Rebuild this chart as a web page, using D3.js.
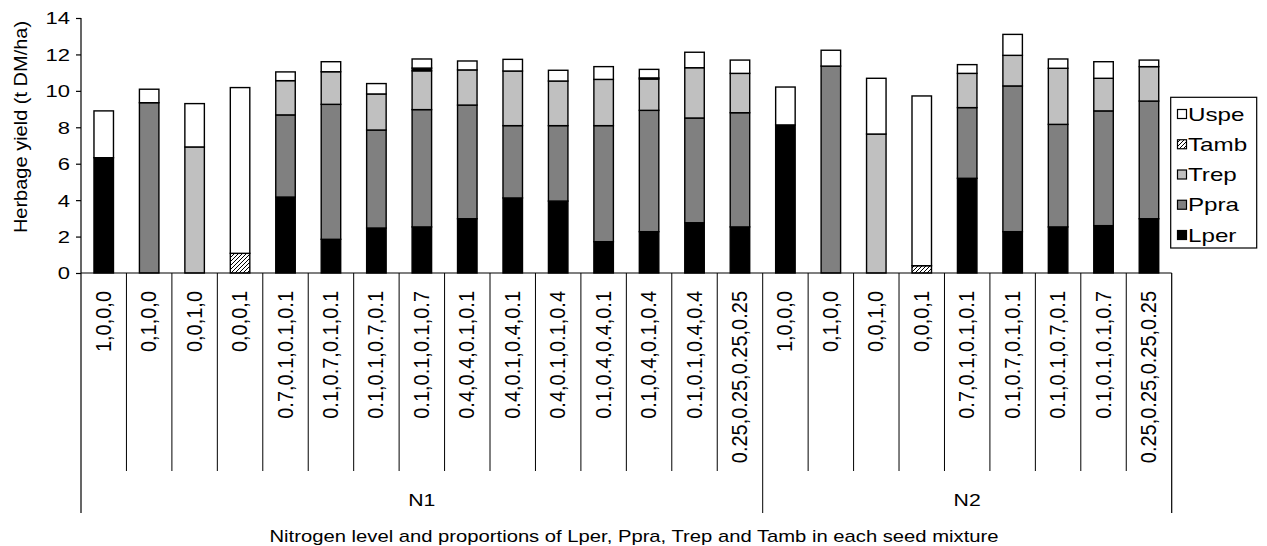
<!DOCTYPE html>
<html><head><meta charset="utf-8">
<script src="https://cdn.jsdelivr.net/npm/d3@7"></script>
<style>
body{margin:0;background:#fff;}
svg text{font-family:Arial,"Liberation Sans",sans-serif;fill:#000;}
</style></head>
<body>
<svg id="chart" width="1267" height="546"></svg>
<script>
const mixturesN1 = ["1,0,0,0","0,1,0,0","0,0,1,0","0,0,0,1","0.7,0.1,0.1,0.1","0.1,0.7,0.1,0.1","0.1,0.1,0.7,0.1","0.1,0.1,0.1,0.7","0.4,0.4,0.1,0.1","0.4,0.1,0.4,0.1","0.4,0.1,0.1,0.4","0.1,0.4,0.4,0.1","0.1,0.4,0.1,0.4","0.1,0.1,0.4,0.4","0.25,0.25,0.25,0.25"];
const mixturesN2 = ["1,0,0,0","0,1,0,0","0,0,1,0","0,0,0,1","0.7,0.1,0.1,0.1","0.1,0.7,0.1,0.1","0.1,0.1,0.7,0.1","0.1,0.1,0.1,0.7","0.25,0.25,0.25,0.25"];
const groups = ["N1","N2"];
const seriesNames = ["Lper","Ppra","Trep","Tamb","Uspe"];
const Lper = [6.33,0,0,0,4.17,1.85,2.47,2.53,2.98,4.12,3.95,1.72,2.27,2.76,2.53, 8.13,0,0,0,5.20,2.27,2.53,2.60,2.98];
const Ppra = [0,9.35,0,0,4.51,7.41,5.38,6.44,6.24,3.97,4.14,6.37,6.66,5.75,6.27, 0,11.36,0,0,3.88,8.00,5.63,6.30,6.46];
const Trep = [0,0,6.92,0,1.88,1.79,1.98,2.13,1.93,3.00,2.45,2.54,1.72,2.76,2.16, 0,0,7.63,0,1.88,1.68,3.08,1.79,1.89];
const Tamb = [0,0,0,1.08,0,0,0,0.15,0,0,0,0,0.06,0,0, 0,0,0,0.40,0,0,0,0,0];
const Uspe = [2.57,0.74,2.38,9.10,0.48,0.55,0.57,0.50,0.49,0.64,0.59,0.70,0.47,0.85,0.73, 2.08,0.87,3.06,9.32,0.48,1.15,0.51,0.91,0.36];
const yTicks = [0,2,4,6,8,10,12,14];
const yTitle = "Herbage yield (t DM/ha)";
const xTitle = "Nitrogen level and proportions of Lper, Ppra, Trep and Tamb in each seed mixture";

const svg = d3.select("#chart");
const mLeft = 81, mRight = 1171.7, mTop = 18, mBottom = 273;
const cats = mixturesN1.map((m,i)=>"N1|"+i).concat(mixturesN2.map((m,i)=>"N2|"+i));
const labels = mixturesN1.concat(mixturesN2);
const x = d3.scaleBand().domain(cats).range([mLeft,mRight]).paddingInner(0).paddingOuter(0);
const y = d3.scaleLinear().domain([0,14]).range([mBottom,mTop]);

const defs = svg.append("defs");
const pat = defs.append("pattern").attr("id","hatch").attr("patternUnits","userSpaceOnUse")
  .attr("width",4).attr("height",4);
pat.append("rect").attr("width",4).attr("height",4).attr("fill","#fff");
pat.append("path").attr("d","M-1,1 l2,-2 M0,4 l4,-4 M3,5 l2,-2").attr("stroke","#000").attr("stroke-width",1);

const fills = {Lper:"#000000",Ppra:"#808080",Trep:"#c0c0c0",Tamb:"url(#hatch)",Uspe:"#ffffff"};
const table = cats.map((c,i)=>({cat:c,Lper:Lper[i],Ppra:Ppra[i],Trep:Trep[i],Tamb:Tamb[i],Uspe:Uspe[i]}));
const stack = d3.stack().keys(seriesNames)(table);

const barW = 19.5;
const gBars = svg.append("g");
stack.forEach(layer=>{
  gBars.selectAll(null).data(layer.filter(d=>d[1]-d[0]>0)).enter().append("rect")
    .attr("x",d=>x(d.data.cat)+x.bandwidth()/2-barW/2)
    .attr("width",barW)
    .attr("y",d=>y(d[1]))
    .attr("height",d=>y(d[0])-y(d[1]))
    .attr("fill",d=>(layer.key==="Tamb" && (d[1]-d[0])<0.2) ? "#000" : fills[layer.key])
    .attr("stroke","#000").attr("stroke-width",1.4);
});

// y axis
const yAxis = d3.axisLeft(y).tickValues(yTicks).tickSize(5).tickPadding(6).tickFormat(d3.format("d"));
const gy = svg.append("g").attr("transform",`translate(${mLeft},0)`).call(yAxis);
gy.select(".domain").attr("stroke","#000").attr("stroke-width",1.2).attr("d",`M0,${mTop}V${mBottom}`);
gy.selectAll(".tick line").attr("stroke","#000").attr("stroke-width",1.2);
gy.selectAll(".tick text").attr("font-size",16.3).attr("font-family","Arial,'Liberation Sans',sans-serif")
  .attr("x",null).attr("transform","translate(-11,0) scale(1.35,1)").attr("dy","0.36em");

// x axis base line
svg.append("line").attr("x1",mLeft).attr("x2",mRight).attr("y1",mBottom).attr("y2",mBottom).attr("stroke","#000").attr("stroke-width",1.2);

// category dividers
const divBot = 471, grpBot = 513;
cats.forEach((c,i)=>{
  if(i===0) return;
  const xx = x(c);
  const isGroup = c === "N2|0";
  svg.append("line").attr("x1",xx).attr("x2",xx).attr("y1",mBottom).attr("y2",isGroup?grpBot:divBot)
    .attr("stroke","#000").attr("stroke-width",1);
});
[mLeft,mRight].forEach(xx=>svg.append("line").attr("x1",xx).attr("x2",xx).attr("y1",mBottom).attr("y2",grpBot).attr("stroke","#000").attr("stroke-width",1.2));

// category labels
cats.forEach((c,i)=>{
  const cx = x(c)+x.bandwidth()/2;
  svg.append("text").attr("transform",`translate(${cx+7},291) scale(1.08,1) rotate(-90)`)
    .attr("text-anchor","end").attr("font-size",20).text(labels[i]);
});

// group labels
const gCenters = [(mLeft+x("N2|0"))/2, (x("N2|0")+mRight)/2];
groups.forEach((g,i)=>{
  svg.append("text").attr("transform",`translate(${gCenters[i]},506) scale(1.25,1)`)
    .attr("text-anchor","middle").attr("font-size",17).text(g);
});

// axis titles
svg.append("text").attr("transform",`translate(634,542) scale(1.19,1)`).attr("text-anchor","middle").attr("font-size",17).text(xTitle);
svg.append("text").attr("transform",`translate(27,127) scale(0.95,1) rotate(-90)`).attr("text-anchor","middle").attr("font-size",20).text(yTitle);

// legend
const lg = svg.append("g");
lg.append("rect").attr("x",1170.7).attr("y",97.3).attr("width",86).attr("height",150.7).attr("fill","#fff").attr("stroke","#000").attr("stroke-width",1.2);
const legOrder = ["Uspe","Tamb","Trep","Ppra","Lper"];
legOrder.forEach((k,i)=>{
  const cy = 114 + i*30.25;
  lg.append("rect").attr("x",1177.5).attr("y",cy-4.5).attr("width",9).attr("height",9).attr("fill",fills[k]).attr("stroke","#000").attr("stroke-width",1.2);
  lg.append("text").attr("transform",`translate(1188,${cy}) scale(1.3,1)`).attr("dy","0.36em").attr("font-size",18.6).text(k);
});
</script>
</body></html>
